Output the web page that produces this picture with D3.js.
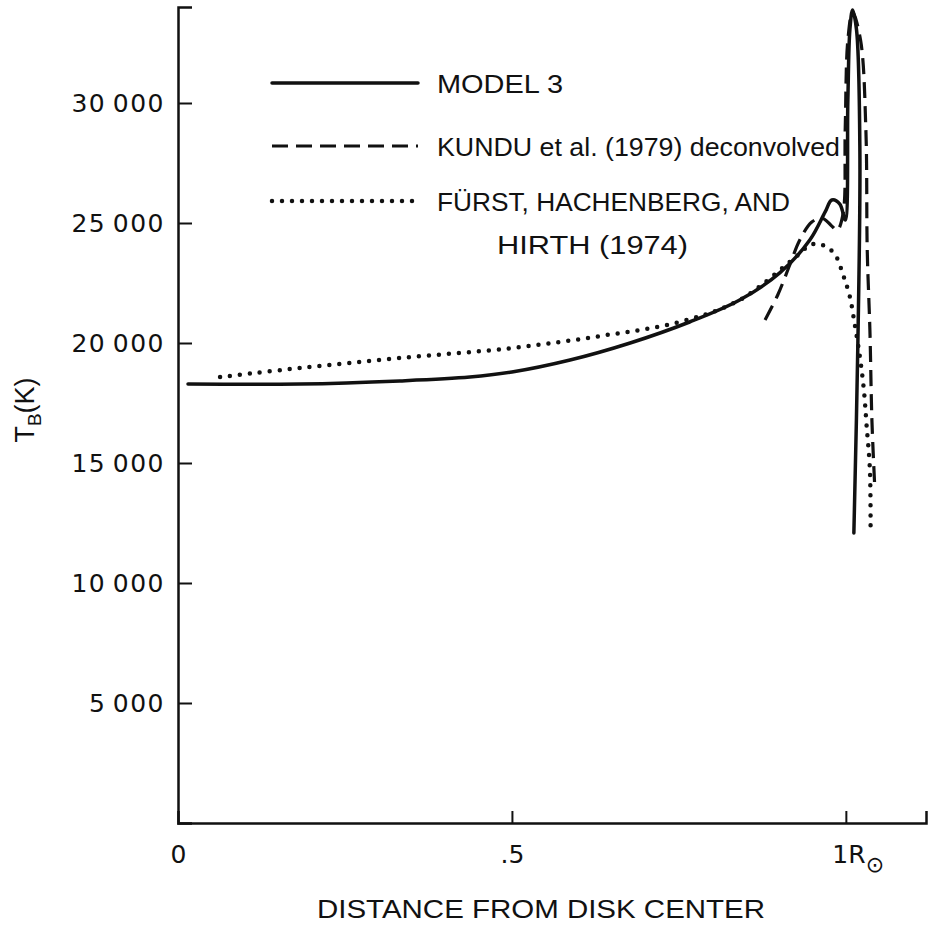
<!DOCTYPE html>
<html>
<head>
<meta charset="utf-8">
<script src="https://cdn.jsdelivr.net/npm/d3@7"></script>
<style>
  body { margin: 0; background: #fff; }
  text { font-family: "Liberation Sans", Arial, sans-serif; fill: #111; }
</style>
</head>
<body>
<svg></svg>
<script>
// distance from disk center (R_sun) and brightness temperature (K)
const model3X = [0.015, 0.183, 0.332, 0.437, 0.5, 0.587, 0.677, 0.766, 0.841, 0.901, 0.946, 0.969, 0.979, 0.991, 0.999, 1.003, 1.006, 1.010, 1.016, 1.021, 1.018, 1.012]
const model3T = [18290, 18290, 18420, 18580, 18790, 19290, 20000, 20875, 21790, 22920, 24290, 25460, 25960, 25790, 25125, 30125, 33040, 33875, 33040, 28000, 20000, 12080]

const kunduX = [0.879, 0.898, 0.916, 0.931, 0.949, 0.964, 0.978, 0.987, 0.996, 0.999, 1.003, 1.010, 1.022, 1.030, 1.032, 1.036, 1.039, 1.043]
const kunduT = [20960, 22000, 23250, 24290, 25040, 25210, 24900, 24700, 25420, 28870, 32625, 33790, 32625, 28870, 23875, 20540, 16790, 14170]

const furstX = [0.063, 0.183, 0.332, 0.5, 0.632, 0.751, 0.841, 0.916, 0.951, 0.969, 0.984, 0.996, 1.006, 1.013, 1.021, 1.027, 1.031, 1.036, 1.037]
const furstT = [18580, 18960, 19375, 19790, 20290, 20875, 21790, 23375, 24125, 24040, 23670, 22830, 21920, 20830, 19420, 18040, 16580, 14710, 12125]

const yTicks = [5000, 10000, 15000, 20000, 25000, 30000]
const xTicks = [0, 0.5, 1]
const xTickLabels = ['0', '.5', '1R']

const legendLabels = ['MODEL 3', 'KUNDU et al. (1979) deconvolved', 'FÜRST, HACHENBERG, AND']

const width = 934
const height = 926

const svg = d3.select('svg')
    .attr('width', width)
    .attr('height', height)

const xScale = d3.scaleLinear()
    .domain([0, 1.12])
    .range([178, 926])
const yScale = d3.scaleLinear()
    .domain([0, 34000])
    .range([823, 7])

const styles = [
    { width: 3.5, dash: null, cap: 'round' },
    { width: 3.2, dash: '16 8', cap: 'butt' },
    { width: 4.5, dash: '0 10', cap: 'round' }
]

// axes
const yAxis = d3.axisLeft(yScale)
    .tickValues(yTicks)
    .tickSize(-14)
    .tickPadding(13)
    .tickFormat(d => d3.format(',')(d).replace(',', '\u2009'))
const xAxis = d3.axisBottom(xScale)
    .tickValues(xTicks)
    .tickSize(-12)
    .tickPadding(22)
    .tickFormat((d, i) => xTickLabels[i])

const gy = svg.append('g')
    .attr('transform', `translate(${xScale(0)}, 0)`)
    .call(yAxis)
const gx = svg.append('g')
    .attr('transform', `translate(0, ${yScale(0)})`)
    .call(xAxis)

for (const g of [gx, gy]) {
    g.select('.domain').attr('stroke', '#111').attr('stroke-width', 2.5)
    g.selectAll('.tick line').attr('stroke', '#111').attr('stroke-width', 2)
    g.selectAll('.tick text')
        .style('font-family', '"DejaVu Sans", sans-serif')
        .style('font-size', '25px')
        .attr('fill', '#111')
}
gy.selectAll('.tick text').style('letter-spacing', '1.5px')
gx.selectAll('.tick').filter(d => d === 0).select('line').remove()
gx.selectAll('.tick').filter(d => d === 1).select('text')
    .attr('text-anchor', 'start')
    .attr('x', -14)
    .append('tspan')
    .attr('dy', '0.4em')
    .style('font-size', '22px')
    .text('\u2299')

// axis titles
svg.append('text')
    .attr('x', 541)
    .attr('y', 918)
    .attr('text-anchor', 'middle')
    .attr('textLength', 448)
    .attr('lengthAdjust', 'spacingAndGlyphs')
    .style('font-size', '25px')
    .text('DISTANCE FROM DISK CENTER')

const ylab = svg.append('text')
    .attr('transform', 'translate(34, 410) rotate(-90)')
    .attr('text-anchor', 'middle')
    .style('font-size', '27px')
ylab.append('tspan').text('T')
ylab.append('tspan').attr('dy', 7).style('font-size', '19px').text('B')
ylab.append('tspan').attr('dy', -7).text('(K)')

// curves
const line = d3.line()
    .x(d => xScale(d[0]))
    .y(d => yScale(d[1]))
    .curve(d3.curveCatmullRom.alpha(0.5))

const series = [
    d3.zip(model3X, model3T),
    d3.zip(kunduX, kunduT),
    d3.zip(furstX, furstT)
]

series.forEach((pts, i) => {
    svg.append('path')
        .datum(pts)
        .attr('d', line)
        .attr('fill', 'none')
        .attr('stroke', '#111')
        .attr('stroke-width', styles[i].width)
        .attr('stroke-linecap', styles[i].cap)
        .attr('stroke-linejoin', 'round')
        .attr('stroke-dasharray', styles[i].dash)
})

// legend
const legendY = [83, 146, 201]
const legendLen = [126, 403, 353]
const legend = svg.append('g')
legendLabels.forEach((label, i) => {
    legend.append('line')
        .attr('x1', 272)
        .attr('x2', 418)
        .attr('y1', legendY[i])
        .attr('y2', legendY[i])
        .attr('stroke', '#111')
        .attr('stroke-width', styles[i].width)
        .attr('stroke-linecap', styles[i].cap)
        .attr('stroke-dasharray', styles[i].dash)
    legend.append('text')
        .attr('x', 437)
        .attr('y', legendY[i] + 10)
        .attr('textLength', legendLen[i])
        .attr('lengthAdjust', 'spacingAndGlyphs')
        .style('font-size', '26px')
        .text(label)
})
legend.append('text')
    .attr('x', 497)
    .attr('y', 254)
    .attr('textLength', 191)
    .attr('lengthAdjust', 'spacingAndGlyphs')
    .style('font-size', '26px')
    .text('HIRTH (1974)')
</script>
</body>
</html>
